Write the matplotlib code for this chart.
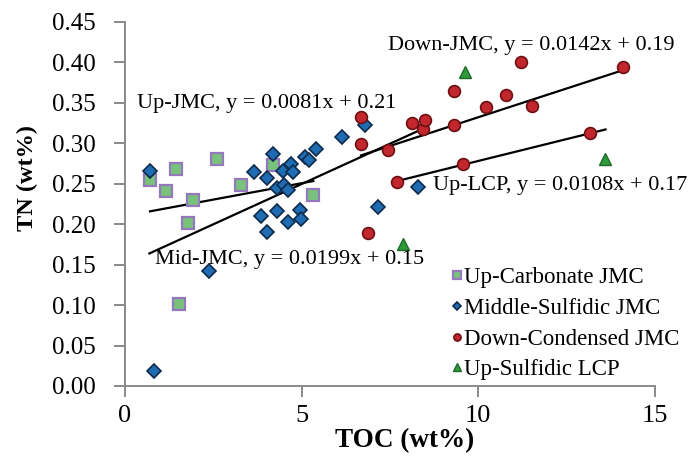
import matplotlib
matplotlib.use('Agg')
import matplotlib.pyplot as plt
import numpy as np

# Up-Carbonate JMC
carb_toc = [0.71, 1.16, 1.44, 1.54, 1.79, 1.92, 2.59, 3.27, 4.20, 5.33]
carb_tn = [0.255, 0.241, 0.268, 0.101, 0.201, 0.230, 0.280, 0.248, 0.273, 0.236]

# Middle-Sulfidic JMC
mid_toc = [0.71, 0.82, 2.39, 3.66, 3.84, 4.01, 4.03, 4.20, 4.29, 4.31, 4.46, 4.50, 4.60,
           4.62, 4.70, 4.75, 4.95, 4.97, 5.09, 5.22, 5.41, 6.13, 6.79, 7.17, 8.28]
mid_tn = [0.266, 0.0185, 0.142, 0.264, 0.210, 0.257, 0.190, 0.287, 0.244, 0.216, 0.266, 0.248, 0.242,
          0.202, 0.274, 0.264, 0.217, 0.206, 0.283, 0.279, 0.293, 0.308, 0.322, 0.221, 0.246]

# Down-Condensed JMC
down_toc = [6.68, 6.68, 6.89, 7.45, 7.71, 8.11, 8.44, 8.49, 9.31, 9.32, 9.58, 10.21, 10.78,
            11.20, 11.51, 13.16, 14.09]
down_tn = [0.3325, 0.299, 0.189, 0.291, 0.2515, 0.325, 0.318, 0.328, 0.3646, 0.323, 0.274, 0.345,
           0.359, 0.400, 0.3457, 0.3128, 0.394]

# Up-Sulfidic LCP
lcp_toc = [7.88, 9.62, 13.59]
lcp_tn = [0.175, 0.388, 0.281]

# trend lines: slope, intercept, x start, x end
trend_names = ['Up-JMC', 'Mid-JMC', 'Down-JMC', 'Up-LCP']
trend_slope = [0.0081, 0.0199, 0.0142, 0.0108]
trend_icpt = [0.21, 0.15, 0.19, 0.17]
trend_x0 = [0.71, 0.69, 6.68, 7.78]
trend_x1 = [5.33, 8.28, 14.09, 13.6]
# label anchor (left, centre) in data units
label_x = [0.34, 0.85, 7.44, 8.72]
label_y = [0.349, 0.156, 0.421, 0.248]

plt.rcParams['font.family'] = ['Liberation Serif', 'DejaVu Serif']
axis_grey = '#8a8a8a'

fig = plt.figure(figsize=(6.95, 4.62), dpi=100)
ax = fig.add_axes([125 / 695, 1 - 386 / 462, 530 / 695, (386 - 21.7) / 462])

for x0, x1, k, b in zip(trend_x0, trend_x1, trend_slope, trend_icpt):
    xs = np.array([x0, x1])
    ax.plot(xs, k * xs + b, color='black', lw=1.6, zorder=2)

ax.plot(carb_toc, carb_tn, ls='none', marker='s', ms=8.5, mfc='#78c27c', mec='#9479bd', mew=1.6,
        label='Up-Carbonate JMC', zorder=3)
ax.plot(mid_toc, mid_tn, ls='none', marker='D', ms=7, mfc='#1f6cb3', mec='#0f2a4a', mew=1.2,
        label='Middle-Sulfidic JMC', zorder=3)
ax.plot(down_toc, down_tn, ls='none', marker='o', ms=8.5, mfc='#c1272d', mec='#6e1013', mew=1.2,
        label='Down-Condensed JMC', zorder=3)
ax.plot(lcp_toc, lcp_tn, ls='none', marker='^', ms=9, mfc='#2f9a3c', mec='#1d6a27', mew=1.0,
        label='Up-Sulfidic LCP', zorder=3)

for name, k, b, tx, ty in zip(trend_names, trend_slope, trend_icpt, label_x, label_y):
    ax.text(tx, ty, f'{name}, y = {k:.4f}x + {b:.2f}', fontsize=16, ha='left', va='center', zorder=4)

ax.set_xlim(0, 15)
ax.set_ylim(0, 0.45)
ax.set_xticks([0, 5, 10, 15])
ax.set_yticks(np.arange(0, 0.451, 0.05))
ax.yaxis.set_major_formatter(matplotlib.ticker.FormatStrFormatter('%.2f'))

for s in ['top', 'right']:
    ax.spines[s].set_visible(False)
for s in ['left', 'bottom']:
    ax.spines[s].set_color(axis_grey)
    ax.spines[s].set_linewidth(1.4)

ax.tick_params(axis='x', direction='out', length=8, width=1.4, color=axis_grey, labelsize=19, pad=6)
ax.tick_params(axis='y', direction='out', length=8, width=1.4, color=axis_grey, labelsize=18, pad=13)

ax.set_xlabel('TOC (wt%)', fontsize=19.5, fontweight='bold')
ax.set_ylabel('TN (wt%)', fontsize=17.5, fontweight='bold')
ax.xaxis.set_label_coords(0.528, -0.115)
ax.yaxis.set_label_coords(-0.165, 0.57)

leg = ax.legend(loc='upper left', bbox_to_anchor=(440 / 695, 1 - 256 / 462), bbox_transform=fig.transFigure,
                frameon=False, fontsize=16.5, markerscale=0.6, handlelength=0.5, handletextpad=0.05,
                labelspacing=0.42, borderpad=0)

fig.savefig('out.png', dpi=100)
